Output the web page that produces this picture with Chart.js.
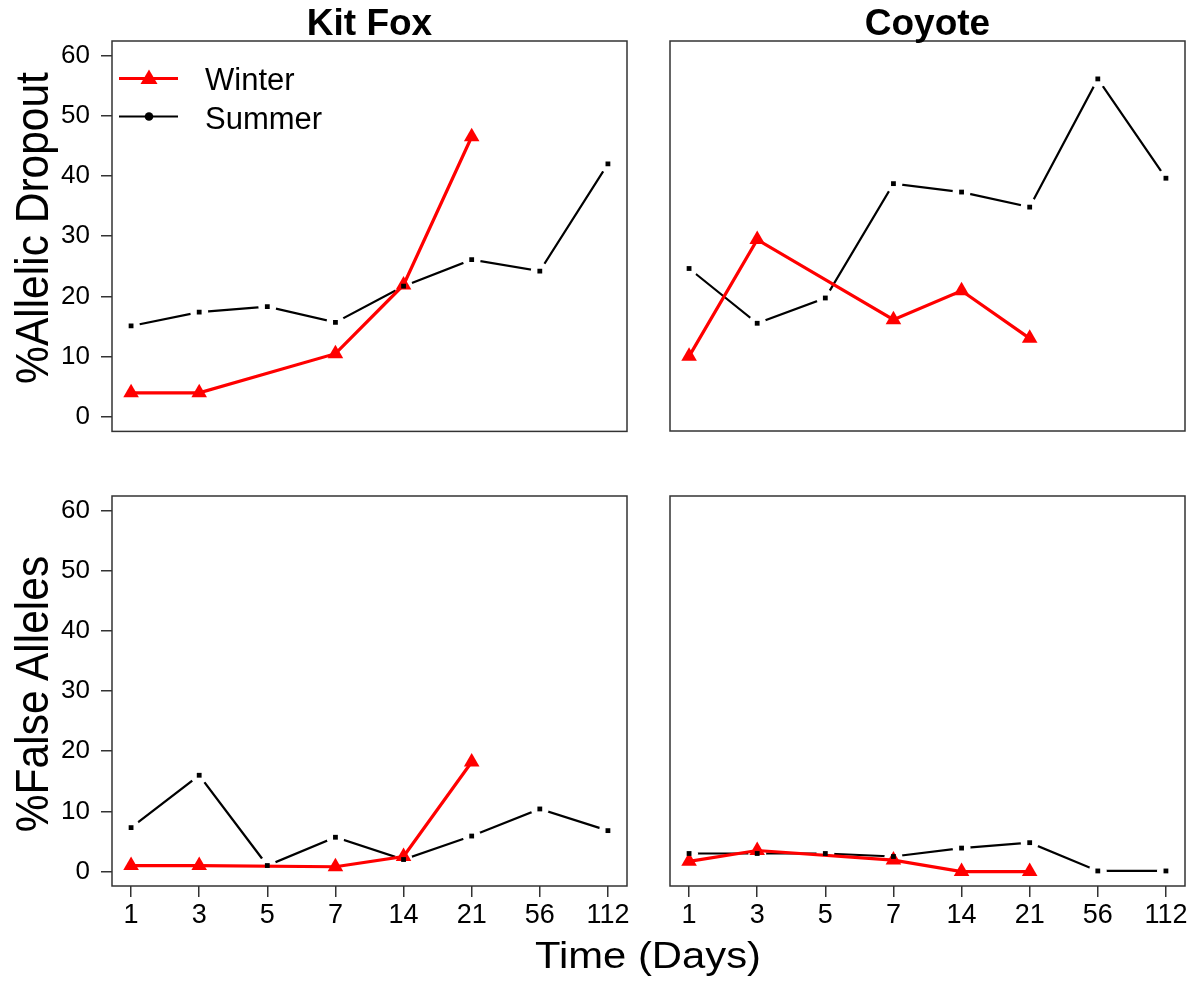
<!DOCTYPE html>
<html><head><meta charset="utf-8">
<script src="https://cdn.jsdelivr.net/npm/chart.js@4.4.1/dist/chart.umd.min.js"></script>
<style>
html,body{margin:0;padding:0;background:#fff;}
body{width:1201px;height:982px;position:relative;overflow:hidden;font-family:"Liberation Sans",Arial,sans-serif;}
.panel{position:absolute;}
.txt{position:absolute;white-space:nowrap;color:#000;}
</style></head><body>
<div class="panel" style="left:0;top:455px;width:640px;height:527px"><canvas id="c3"></canvas></div>
<div class="panel" style="left:640px;top:455px;width:561px;height:527px"><canvas id="c4"></canvas></div>
<div class="panel" style="left:0;top:0;width:640px;height:458px"><canvas id="c1"></canvas></div>
<div class="panel" style="left:640px;top:0;width:561px;height:455px"><canvas id="c2"></canvas></div>

<div class="txt" style="left:112px;top:3.7px;width:515px;text-align:center;font-weight:bold;font-size:37px;line-height:37px;">Kit Fox</div>
<div class="txt" style="left:670px;top:3.7px;width:515px;text-align:center;font-weight:bold;font-size:37px;line-height:37px;">Coyote</div>
<div class="txt" style="left:348px;top:936.7px;width:600px;text-align:center;font-size:37px;line-height:37px;transform:scaleX(1.13);">Time (Days)</div>
<div class="txt" style="left:-167.5px;top:203px;width:400px;height:50px;text-align:center;font-size:42.5px;line-height:50px;transform:rotate(-90deg) scaleY(1.1);">%Allelic Dropout</div>
<div class="txt" style="left:-167.5px;top:669px;width:400px;height:50px;text-align:center;font-size:42.5px;line-height:50px;transform:rotate(-90deg) scaleY(1.1);">%False Alleles</div>

<svg style="position:absolute;left:0;top:0" width="200" height="140">
  <line x1="119" y1="78.5" x2="178" y2="78.5" stroke="#ff0000" stroke-width="3"/>
  <polygon points="140.5,84 157.5,84 149,69.5" fill="#ff0000"/>
  <line x1="119" y1="116.5" x2="178" y2="116.5" stroke="#000" stroke-width="2"/>
  <circle cx="149" cy="116.5" r="4.3" fill="#000"/>
</svg>
<div class="txt" style="left:205px;top:64px;font-size:31px;line-height:31px;">Winter</div>
<div class="txt" style="left:205px;top:102.5px;font-size:31px;line-height:31px;">Summer</div>

<script>
// ---- data ----
const xLabels = ['1', '3', '5', '7', '14', '21', '56', '112'];
const yTicks = [0, 10, 20, 30, 40, 50, 60];

const kitFoxDropoutWinter = [4.0, 4.0, null, 10.5, 21.9, 46.5, null, null];
const kitFoxDropoutSummer = [15.1, 17.4, 18.3, 15.7, 21.7, 26.1, 24.2, 42.0];
const coyoteDropoutWinter = [10.0, 29.4, null, 16.1, 20.9, 13.0, null, null];
const coyoteDropoutSummer = [24.6, 15.5, 19.7, 38.7, 37.3, 34.8, 56.1, 39.6];
const kitFoxFalseWinter = [1.0, 1.0, null, 0.8, 2.5, 18.2, null, null];
const kitFoxFalseSummer = [7.3, 16.0, 1.0, 5.7, 2.0, 5.9, 10.4, 6.8];
const coyoteFalseWinter = [1.7, 3.5, null, 1.9, 0.0, 0.0, null, null];
const coyoteFalseSummer = [3.0, 3.0, 3.0, 2.5, 3.9, 4.8, 0.1, 0.1];

// ---- drawing ----
const FONT = '"Liberation Sans", Arial, sans-serif';
const pts = arr => arr.map((v, i) => ({x: i + 1, y: v}));

const boxPlugin = {
  id: 'box',
  afterDraw(chart) {
    const {ctx, chartArea: a} = chart;
    ctx.save();
    ctx.strokeStyle = '#333';
    ctx.lineWidth = 1.5;
    ctx.strokeRect(a.left, a.top, a.right - a.left, a.bottom - a.top);
    ctx.restore();
  }
};

function makePanel(id, winter, summer, showX, showY, padding) {
  const gridOpts = {drawOnChartArea: false, drawTicks: true, tickLength: 11, color: '#333', lineWidth: 1.5};
  new Chart(document.getElementById(id), {
    type: 'line',
    data: {
      datasets: [
        {label: 'Summer', data: pts(summer), showLine: false, pointStyle: 'rect', pointRadius: 3.4,
         pointBackgroundColor: '#000', pointBorderWidth: 0, order: 0},
        {label: 'Winter', data: pts(winter), borderColor: '#ff0000', borderWidth: 3.2, tension: 0,
         spanGaps: true, pointStyle: 'triangle', pointRadius: 9, pointBackgroundColor: '#ff0000',
         pointBorderColor: '#ff0000', pointBorderWidth: 0, order: 1},
        {label: 'gap', data: pts(summer), showLine: false, pointStyle: 'circle', pointRadius: 9,
         pointBackgroundColor: '#fff', pointBorderWidth: 0, order: 2},
        {label: 'Summer line', data: pts(summer), borderColor: '#000', borderWidth: 2.2, tension: 0,
         pointRadius: 0, order: 3}
      ]
    },
    options: {
      responsive: true, maintainAspectRatio: false, animation: false,
      events: [],
      layout: {padding},
      plugins: {legend: {display: false}, tooltip: {enabled: false}},
      scales: {
        x: {
          type: 'linear', min: 0.72, max: 8.28, display: showX,
          afterBuildTicks: ax => { ax.ticks = xLabels.map((_, i) => ({value: i + 1})); },
          afterFit: ax => { ax.height = showX ? 96 : 0; },
          ticks: {callback: v => xLabels[Math.round(v) - 1], font: {size: 27, family: FONT}, color: '#000',
                  padding: 2, autoSkip: false, maxRotation: 0},
          grid: gridOpts, border: {display: false}
        },
        y: {
          type: 'linear', min: -2.4, max: 62.4, display: showY,
          afterBuildTicks: ax => { ax.ticks = yTicks.map(v => ({value: v})); },
          afterFit: ax => { ax.width = showY ? 112 : 0; },
          ticks: {font: {size: 26, family: FONT}, color: '#000', padding: 11},
          grid: gridOpts, border: {display: false}
        }
      }
    },
    plugins: [boxPlugin]
  });
}

makePanel('c1', kitFoxDropoutWinter, kitFoxDropoutSummer, false, true, {top: 41, right: 13, bottom: 24, left: 0});
makePanel('c2', coyoteDropoutWinter, coyoteDropoutSummer, false, false, {top: 41, right: 16, bottom: 24, left: 30});
makePanel('c3', kitFoxFalseWinter, kitFoxFalseSummer, true, true, {top: 41, right: 13, bottom: 0, left: 0});
makePanel('c4', coyoteFalseWinter, coyoteFalseSummer, true, false, {top: 41, right: 16, bottom: 0, left: 30});
</script>
</body></html>
